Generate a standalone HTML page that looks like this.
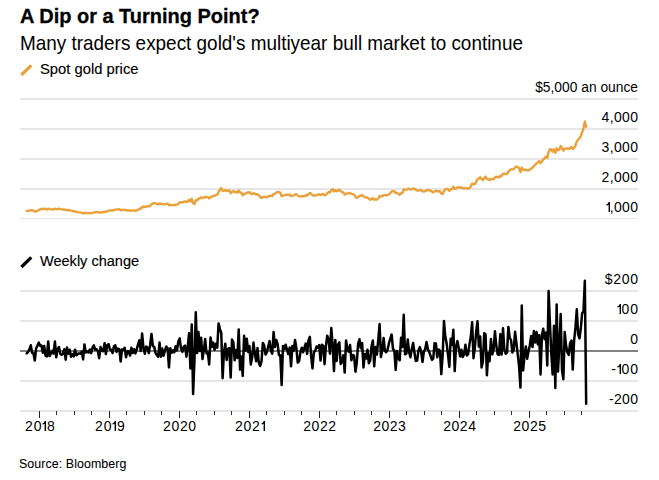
<!DOCTYPE html>
<html><head><meta charset="utf-8">
<style>
html,body{margin:0;padding:0;background:#fff;}
body{width:659px;height:480px;position:relative;overflow:hidden;font-family:"Liberation Sans",sans-serif;color:#000;}
.t{position:absolute;left:20px;white-space:nowrap;line-height:1;transform-origin:0 0;}
#title{top:4.9px;font-size:21px;font-weight:bold;transform:scaleX(0.951);-webkit-text-stroke:0.3px #000;}
#sub{top:32.5px;font-size:20.3px;transform:scaleX(0.9325);}
#leg1{left:40px;top:61.4px;font-size:15.3px;transform:scaleX(0.965);-webkit-text-stroke:0.15px #000;}
#leg2{left:40px;top:253.4px;font-size:15.3px;transform:scaleX(0.95);-webkit-text-stroke:0.15px #000;}
#src{top:458px;left:19px;font-size:12.4px;letter-spacing:0.08px;color:#000;-webkit-text-stroke:0.08px #000;}
.yl{position:absolute;right:21px;font-size:14px;letter-spacing:0.35px;margin-right:-0.35px;line-height:16px;height:16px;white-space:nowrap;padding-top:4px;}
.xl{position:absolute;top:418px;width:60px;text-align:center;font-size:14px;line-height:16px;}
.one{vertical-align:baseline;display:inline-block;}
#unit{letter-spacing:0;margin-right:0;font-size:13.8px;padding-top:5.2px;}
</style></head><body>
<svg width="659" height="480" viewBox="0 0 659 480" style="position:absolute;left:0;top:0">
<rect x="20" y="98" width="618" height="2" fill="#e6e6e6"/>
<rect x="20" y="128" width="618" height="2" fill="#e6e6e6"/>
<rect x="20" y="158" width="618" height="2" fill="#e6e6e6"/>
<rect x="20" y="188" width="618" height="2" fill="#e6e6e6"/>
<rect x="20" y="218" width="618" height="1" fill="#e6e6e6"/>
<rect x="20" y="290" width="618" height="2" fill="#e6e6e6"/>
<rect x="20" y="320" width="618" height="2" fill="#e6e6e6"/>
<rect x="20" y="380" width="618" height="2" fill="#e6e6e6"/>
<rect x="20" y="410" width="618" height="2" fill="#e6e6e6"/>
<rect x="39" y="411" width="1" height="7" fill="#222"/>
<rect x="109" y="411" width="1" height="7" fill="#222"/>
<rect x="179" y="411" width="1" height="7" fill="#222"/>
<rect x="249" y="411" width="1" height="7" fill="#222"/>
<rect x="319" y="411" width="1" height="7" fill="#222"/>
<rect x="389" y="411" width="1" height="7" fill="#222"/>
<rect x="459" y="411" width="1" height="7" fill="#222"/>
<rect x="529" y="411" width="1" height="7" fill="#222"/>
<rect x="56" y="411" width="1" height="4" fill="#333"/>
<rect x="74" y="411" width="1" height="4" fill="#333"/>
<rect x="91" y="411" width="1" height="4" fill="#333"/>
<rect x="126" y="411" width="1" height="4" fill="#333"/>
<rect x="144" y="411" width="1" height="4" fill="#333"/>
<rect x="161" y="411" width="1" height="4" fill="#333"/>
<rect x="196" y="411" width="1" height="4" fill="#333"/>
<rect x="214" y="411" width="1" height="4" fill="#333"/>
<rect x="231" y="411" width="1" height="4" fill="#333"/>
<rect x="266" y="411" width="1" height="4" fill="#333"/>
<rect x="284" y="411" width="1" height="4" fill="#333"/>
<rect x="301" y="411" width="1" height="4" fill="#333"/>
<rect x="336" y="411" width="1" height="4" fill="#333"/>
<rect x="354" y="411" width="1" height="4" fill="#333"/>
<rect x="371" y="411" width="1" height="4" fill="#333"/>
<rect x="406" y="411" width="1" height="4" fill="#333"/>
<rect x="424" y="411" width="1" height="4" fill="#333"/>
<rect x="441" y="411" width="1" height="4" fill="#333"/>
<rect x="476" y="411" width="1" height="4" fill="#333"/>
<rect x="494" y="411" width="1" height="4" fill="#333"/>
<rect x="511" y="411" width="1" height="4" fill="#333"/>
<rect x="546" y="411" width="1" height="4" fill="#333"/>
<rect x="564" y="411" width="1" height="4" fill="#333"/>
<rect x="581" y="411" width="1" height="4" fill="#333"/>
<path d="M26.75,210.84 L28.09,210.93 L29.43,210.75 L30.78,210.18 L32.12,210.36 L33.46,210.60 L34.80,211.56 L36.14,211.29 L37.48,210.75 L38.83,209.91 L40.17,209.40 L41.51,208.86 L42.85,209.04 L44.19,208.53 L45.53,209.01 L46.87,209.55 L48.22,208.59 L49.56,209.10 L50.90,209.34 L52.24,209.31 L53.58,209.58 L54.92,208.62 L56.27,209.25 L57.61,209.04 L58.95,208.65 L60.29,208.92 L61.63,209.31 L62.97,209.58 L64.31,209.40 L65.66,210.27 L67.00,209.91 L68.34,210.18 L69.68,210.06 L71.02,210.63 L72.36,210.93 L73.71,211.47 L75.05,211.35 L76.39,211.77 L77.73,212.07 L79.07,212.31 L80.41,212.58 L81.75,212.64 L83.10,213.48 L84.44,212.82 L85.78,212.97 L87.12,213.03 L88.46,213.18 L89.80,213.03 L91.15,213.24 L92.49,212.91 L93.83,212.34 L95.17,212.19 L96.51,212.01 L97.85,212.01 L99.19,212.73 L100.54,212.34 L101.88,212.31 L103.22,212.34 L104.56,211.56 L105.90,211.86 L107.24,211.29 L108.59,210.60 L109.93,210.45 L111.27,210.33 L112.61,210.54 L113.95,210.06 L115.29,209.49 L116.63,209.58 L117.98,209.34 L119.32,209.16 L120.66,210.21 L122.00,210.06 L123.34,209.94 L124.68,209.61 L126.03,210.24 L127.37,210.27 L128.71,210.30 L130.05,210.75 L131.39,210.42 L132.73,210.63 L134.07,210.45 L135.42,210.69 L136.76,210.51 L138.10,209.85 L139.44,208.77 L140.78,208.77 L142.12,207.03 L143.47,206.73 L144.81,207.00 L146.15,206.55 L147.49,206.22 L148.83,206.43 L150.17,205.80 L151.51,204.09 L152.86,203.61 L154.20,203.19 L155.54,203.40 L156.88,203.79 L158.22,204.36 L159.56,203.52 L160.91,204.09 L162.25,203.85 L163.59,204.33 L164.93,204.30 L166.27,203.85 L167.61,203.58 L168.96,205.23 L170.30,204.96 L171.64,205.14 L172.98,205.08 L174.32,205.20 L175.66,204.72 L177.00,204.66 L178.35,203.70 L179.69,202.44 L181.03,202.20 L182.37,202.29 L183.71,201.87 L185.05,201.33 L186.40,201.90 L187.74,201.48 L189.08,199.71 L190.42,201.45 L191.76,198.81 L193.10,203.10 L194.44,204.06 L195.79,200.19 L197.13,200.40 L198.47,198.51 L199.81,198.51 L201.15,197.19 L202.49,198.00 L203.84,197.91 L205.18,196.71 L206.52,196.95 L207.86,197.10 L209.20,198.45 L210.54,197.10 L211.88,196.71 L213.23,195.87 L214.57,195.75 L215.91,195.03 L217.25,194.70 L218.59,191.94 L219.93,189.75 L221.28,187.95 L222.62,190.68 L223.96,190.80 L225.30,190.08 L226.64,190.98 L227.98,190.80 L229.32,190.50 L230.67,193.14 L232.01,192.00 L233.35,191.10 L234.69,192.03 L236.03,191.94 L237.37,192.63 L238.72,190.47 L240.06,192.33 L241.40,192.87 L242.74,195.36 L244.08,193.83 L245.42,193.80 L246.76,192.57 L248.11,192.66 L249.45,192.15 L250.79,193.50 L252.13,194.16 L253.47,193.32 L254.81,193.56 L256.16,194.58 L257.50,194.28 L258.84,195.48 L260.18,196.98 L261.52,198.00 L262.86,197.19 L264.20,196.65 L265.55,197.01 L266.89,197.13 L268.23,196.68 L269.57,195.69 L270.91,195.69 L272.25,195.96 L273.60,194.07 L274.94,193.68 L276.28,192.57 L277.62,191.85 L278.96,192.27 L280.30,192.69 L281.65,196.08 L282.99,195.57 L284.33,195.39 L285.67,194.76 L287.01,194.64 L288.35,194.94 L289.69,194.58 L291.04,196.11 L292.38,195.60 L293.72,195.57 L295.06,194.46 L296.40,194.19 L297.74,195.36 L299.09,196.38 L300.43,196.50 L301.77,196.17 L303.11,196.29 L304.45,195.96 L305.79,195.21 L307.13,195.51 L308.48,194.46 L309.82,193.05 L311.16,193.62 L312.50,195.36 L313.84,195.51 L315.18,195.51 L316.53,195.06 L317.87,194.73 L319.21,194.13 L320.55,195.09 L321.89,194.46 L323.23,193.95 L324.57,195.27 L325.92,194.76 L327.26,193.23 L328.60,192.06 L329.94,192.33 L331.28,190.02 L332.62,189.36 L333.97,191.37 L335.31,190.26 L336.65,191.25 L337.99,190.62 L339.33,189.75 L340.67,191.04 L342.01,192.09 L343.36,192.51 L344.70,194.67 L346.04,193.62 L347.38,193.41 L348.72,193.47 L350.06,192.87 L351.41,193.80 L352.75,194.19 L354.09,194.67 L355.43,196.74 L356.77,197.91 L358.11,197.19 L359.45,196.02 L360.80,195.75 L362.14,194.94 L363.48,196.59 L364.82,196.89 L366.16,197.64 L367.50,197.52 L368.85,198.75 L370.19,199.68 L371.53,199.20 L372.87,198.15 L374.21,199.68 L375.55,199.29 L376.89,199.65 L378.24,198.57 L379.58,195.87 L380.92,196.47 L382.26,196.38 L383.60,195.09 L384.94,195.09 L386.29,195.21 L387.63,195.06 L388.97,194.28 L390.31,193.05 L391.65,191.40 L392.99,191.22 L394.33,191.16 L395.68,193.05 L397.02,193.05 L398.36,193.74 L399.70,194.67 L401.04,193.35 L402.38,192.96 L403.73,189.33 L405.07,189.66 L406.41,189.93 L407.75,188.79 L409.09,188.88 L410.43,189.51 L411.78,189.30 L413.12,188.49 L414.46,188.67 L415.80,189.66 L417.14,190.62 L418.48,190.56 L419.82,190.17 L421.17,190.26 L422.51,191.37 L423.85,191.43 L425.19,191.25 L426.53,190.35 L427.87,190.14 L429.22,190.23 L430.56,190.71 L431.90,191.58 L433.24,192.33 L434.58,191.55 L435.92,190.80 L437.26,191.43 L438.61,191.28 L439.95,191.25 L441.29,193.56 L442.63,194.01 L443.97,191.01 L445.31,189.57 L446.66,188.82 L448.00,189.21 L449.34,190.80 L450.68,189.57 L452.02,188.97 L453.36,186.84 L454.70,188.85 L456.05,188.40 L457.39,187.41 L458.73,187.11 L460.07,187.65 L461.41,187.53 L462.75,188.13 L464.10,188.46 L465.44,187.83 L466.78,188.28 L468.12,188.61 L469.46,187.95 L470.80,186.51 L472.14,183.63 L473.49,184.35 L474.83,184.05 L476.17,182.10 L477.51,179.13 L478.85,178.68 L480.19,177.24 L481.54,178.89 L482.88,179.97 L484.22,178.20 L485.56,176.55 L486.90,178.98 L488.24,179.19 L489.58,180.21 L490.93,179.01 L492.27,179.34 L493.61,179.22 L494.95,177.24 L496.29,176.67 L497.63,177.00 L498.98,177.39 L500.32,175.71 L501.66,176.07 L503.00,173.79 L504.34,173.64 L505.68,173.91 L507.02,174.09 L508.37,171.69 L509.71,170.34 L511.05,169.26 L512.39,169.41 L513.73,169.29 L515.07,167.37 L516.42,166.59 L517.76,166.92 L519.10,168.45 L520.44,172.11 L521.78,167.55 L523.12,169.50 L524.47,170.01 L525.81,169.56 L527.15,170.34 L528.49,170.37 L529.83,169.80 L531.17,168.30 L532.51,167.91 L533.86,165.90 L535.20,165.06 L536.54,163.17 L537.88,162.51 L539.22,160.92 L540.56,163.26 L541.91,161.70 L543.25,159.48 L544.59,158.31 L545.93,156.45 L547.27,157.89 L548.61,151.89 L549.95,149.19 L551.30,149.43 L552.64,151.77 L553.98,149.25 L555.32,152.94 L556.66,148.29 L558.00,150.33 L559.35,149.70 L560.69,146.01 L562.03,147.96 L563.37,150.78 L564.71,148.89 L566.05,148.35 L567.39,148.50 L568.74,148.89 L570.08,148.11 L571.42,147.06 L572.76,148.92 L574.10,147.87 L575.44,145.56 L576.79,141.39 L578.13,139.71 L579.47,138.45 L580.81,136.20 L582.15,132.42 L583.49,128.46 L584.83,121.44 L586.18,126.72" fill="none" stroke="#e9a23b" stroke-width="2.4" stroke-linejoin="round" stroke-linecap="round"/>
<rect x="20" y="350" width="618" height="2" fill="#828282"/>
<path d="M26.75,353.40 L28.09,351.90 L29.43,349.20 L30.78,345.30 L32.12,352.80 L33.46,353.40 L34.80,360.60 L36.14,348.30 L37.48,345.60 L38.83,342.60 L40.17,345.90 L41.51,345.60 L42.85,352.80 L44.19,345.90 L45.53,355.80 L46.87,356.40 L48.22,341.40 L49.56,356.10 L50.90,353.40 L52.24,350.70 L53.58,353.70 L54.92,341.40 L56.27,357.30 L57.61,348.90 L58.95,347.10 L60.29,353.70 L61.63,354.90 L62.97,353.70 L64.31,349.20 L65.66,359.70 L67.00,347.40 L68.34,353.70 L69.68,349.80 L71.02,356.70 L72.36,354.00 L73.71,356.40 L75.05,349.80 L76.39,355.20 L77.73,354.00 L79.07,353.40 L80.41,353.70 L81.75,351.60 L83.10,359.40 L84.44,344.40 L85.78,352.50 L87.12,351.60 L88.46,352.50 L89.80,349.50 L91.15,353.10 L92.49,347.70 L93.83,345.30 L95.17,349.50 L96.51,349.20 L97.85,351.00 L99.19,358.20 L100.54,347.10 L101.88,350.70 L103.22,351.30 L104.56,343.20 L105.90,354.00 L107.24,345.30 L108.59,344.10 L109.93,349.50 L111.27,349.80 L112.61,353.10 L113.95,346.20 L115.29,345.30 L116.63,351.90 L117.98,348.60 L119.32,349.20 L120.66,361.50 L122.00,349.50 L123.34,349.80 L124.68,347.70 L126.03,357.30 L127.37,351.30 L128.71,351.30 L130.05,355.50 L131.39,347.70 L132.73,353.10 L134.07,349.20 L135.42,353.40 L136.76,349.20 L138.10,344.40 L139.44,340.20 L140.78,351.00 L142.12,333.60 L143.47,348.00 L144.81,353.70 L146.15,346.50 L147.49,347.70 L148.83,353.10 L150.17,344.70 L151.51,333.90 L152.86,346.20 L154.20,346.80 L155.54,353.10 L156.88,354.90 L158.22,356.70 L159.56,342.60 L160.91,356.70 L162.25,348.60 L163.59,355.80 L164.93,350.70 L166.27,346.50 L167.61,348.30 L168.96,367.50 L170.30,348.30 L171.64,352.80 L172.98,350.40 L174.32,352.20 L175.66,346.20 L177.00,350.40 L178.35,341.40 L179.69,338.40 L181.03,348.60 L182.37,351.90 L183.71,346.80 L185.05,345.60 L186.40,356.70 L187.74,346.80 L189.08,333.30 L190.42,368.40 L191.76,324.60 L193.10,393.90 L194.44,360.60 L195.79,312.30 L197.13,353.10 L198.47,332.10 L199.81,351.00 L201.15,337.80 L202.49,359.10 L203.84,350.10 L205.18,339.00 L206.52,353.40 L207.86,352.50 L209.20,364.50 L210.54,337.50 L211.88,347.10 L213.23,342.60 L214.57,349.80 L215.91,343.80 L217.25,347.70 L218.59,323.40 L219.93,329.10 L221.28,333.00 L222.62,378.30 L223.96,352.20 L225.30,343.80 L226.64,360.00 L227.98,349.20 L229.32,348.00 L230.67,377.40 L232.01,339.60 L233.35,342.00 L234.69,360.30 L236.03,350.10 L237.37,357.90 L238.72,329.40 L240.06,369.60 L241.40,356.40 L242.74,375.90 L244.08,335.70 L245.42,350.70 L246.76,338.70 L248.11,351.90 L249.45,345.90 L250.79,364.50 L252.13,357.60 L253.47,342.60 L254.81,353.40 L256.16,361.20 L257.50,348.00 L258.84,363.00 L260.18,366.00 L261.52,361.20 L262.86,342.90 L264.20,345.60 L265.55,354.60 L266.89,352.20 L268.23,346.50 L269.57,341.10 L270.91,351.00 L272.25,353.70 L273.60,332.10 L274.94,347.10 L276.28,339.90 L277.62,343.80 L278.96,355.20 L280.30,355.20 L281.65,384.90 L282.99,345.90 L284.33,349.20 L285.67,344.70 L287.01,349.80 L288.35,354.00 L289.69,347.40 L291.04,366.30 L292.38,345.90 L293.72,350.70 L295.06,339.90 L296.40,348.30 L297.74,362.70 L299.09,361.20 L300.43,352.20 L301.77,347.70 L303.11,352.20 L304.45,347.70 L305.79,343.50 L307.13,354.00 L308.48,340.50 L309.82,336.90 L311.16,356.70 L312.50,368.40 L313.84,352.50 L315.18,351.00 L316.53,346.50 L317.87,347.70 L319.21,345.00 L320.55,360.60 L321.89,344.70 L323.23,345.90 L324.57,364.20 L325.92,345.90 L327.26,335.70 L328.60,339.30 L329.94,353.70 L331.28,327.90 L332.62,344.40 L333.97,371.10 L335.31,339.90 L336.65,360.90 L337.99,344.70 L339.33,342.30 L340.67,363.90 L342.01,361.50 L343.36,355.20 L344.70,372.60 L346.04,340.50 L347.38,348.90 L348.72,351.60 L350.06,345.00 L351.41,360.30 L352.75,354.90 L354.09,355.80 L355.43,371.70 L356.77,362.70 L358.11,343.80 L359.45,339.30 L360.80,348.30 L362.14,342.90 L363.48,367.50 L364.82,354.00 L366.16,358.50 L367.50,349.80 L368.85,363.30 L370.19,360.30 L371.53,346.20 L372.87,340.50 L374.21,366.30 L375.55,347.10 L376.89,354.60 L378.24,340.20 L379.58,324.00 L380.92,357.00 L382.26,350.10 L383.60,338.10 L384.94,351.00 L386.29,352.20 L387.63,349.50 L388.97,343.20 L390.31,338.70 L391.65,334.50 L392.99,349.20 L394.33,350.40 L395.68,369.90 L397.02,351.00 L398.36,357.90 L399.70,360.30 L401.04,337.80 L402.38,347.10 L403.73,314.70 L405.07,354.30 L406.41,353.70 L407.75,339.60 L409.09,351.90 L410.43,357.30 L411.78,348.90 L413.12,342.90 L414.46,352.80 L415.80,360.90 L417.14,360.60 L418.48,350.40 L419.82,347.10 L421.17,351.90 L422.51,362.10 L423.85,351.60 L425.19,349.20 L426.53,342.00 L427.87,348.90 L429.22,351.90 L430.56,355.80 L431.90,359.70 L433.24,358.50 L434.58,343.20 L435.92,343.50 L437.26,357.30 L438.61,349.50 L439.95,350.70 L441.29,374.10 L442.63,355.50 L443.97,321.00 L445.31,336.60 L446.66,343.50 L448.00,354.90 L449.34,366.90 L450.68,338.70 L452.02,345.00 L453.36,329.70 L454.70,371.10 L456.05,346.50 L457.39,341.10 L458.73,348.00 L460.07,356.40 L461.41,349.80 L462.75,357.00 L464.10,354.30 L465.44,344.70 L466.78,355.50 L468.12,354.30 L469.46,344.40 L470.80,336.60 L472.14,322.20 L473.49,358.20 L474.83,348.00 L476.17,331.50 L477.51,321.30 L478.85,346.50 L480.19,336.60 L481.54,367.50 L482.88,361.80 L484.22,333.30 L485.56,334.50 L486.90,375.30 L488.24,353.10 L489.58,361.20 L490.93,339.00 L492.27,354.30 L493.61,349.80 L494.95,331.20 L496.29,345.30 L497.63,354.30 L498.98,354.90 L500.32,334.20 L501.66,354.60 L503.00,328.20 L504.34,349.50 L505.68,353.70 L507.02,352.80 L508.37,327.00 L509.71,337.50 L511.05,340.20 L512.39,352.50 L513.73,349.80 L515.07,331.80 L516.42,343.20 L517.76,354.30 L519.10,366.30 L520.44,387.60 L521.78,305.40 L523.12,370.50 L524.47,356.10 L525.81,346.50 L527.15,358.80 L528.49,351.30 L529.83,345.30 L531.17,336.00 L532.51,347.10 L533.86,330.90 L535.20,342.60 L536.54,332.10 L537.88,344.40 L539.22,335.10 L540.56,374.40 L541.91,335.40 L543.25,328.80 L544.59,339.30 L545.93,332.40 L547.27,365.40 L548.61,291.00 L549.95,324.00 L551.30,353.40 L552.64,374.40 L553.98,325.80 L555.32,387.90 L556.66,304.50 L558.00,371.40 L559.35,344.70 L560.69,314.10 L562.03,370.50 L563.37,379.20 L564.71,332.10 L566.05,345.60 L567.39,352.50 L568.74,354.90 L570.08,343.20 L571.42,340.50 L572.76,369.60 L574.10,340.50 L575.44,327.90 L576.79,309.30 L578.13,334.20 L579.47,338.40 L580.81,328.50 L582.15,313.20 L583.49,311.40 L584.83,280.80 L586.18,403.80" fill="none" stroke="#000" stroke-width="2.5" stroke-linejoin="round" stroke-linecap="round"/>
<line x1="21.4" y1="75.0" x2="31.3" y2="65.4" stroke="#e9a23b" stroke-width="3.2"/>
<line x1="21.4" y1="267.0" x2="31.3" y2="257.4" stroke="#000" stroke-width="3.2"/>
</svg>
<div class="t" id="title">A Dip or a Turning Point?</div>
<div class="t" id="sub">Many traders expect gold's multiyear bull market to continue</div>
<div class="t" id="leg1">Spot gold price</div>
<div class="t" id="leg2">Weekly change</div>
<div class="t" id="src">Source: Bloomberg</div>
<div class="yl" id="unit" style="top:75px;">$5,000 an ounce</div>
<div class="yl" style="top:105px;">4,000</div>
<div class="yl" style="top:135px;">3,000</div>
<div class="yl" style="top:165px;">2,000</div>
<div class="yl" style="top:195px;"><svg class="one" width="4.2" height="10.0" viewBox="0 0 4.2 10.0"><path d="M4.05,0 L4.05,10.00 L2.60,10.00 L2.60,2.7 Q1.61,3.35 0.40,3.45 L0.40,2.35 Q1.94,2.1 2.75,0 Z" fill="#000"/></svg>,000</div>
<div class="yl" style="top:267px;letter-spacing:0.7px;margin-right:-0.7px;">$200</div>
<div class="yl" style="top:297px;letter-spacing:1.0px;margin-right:-1.0px;"><svg class="one" width="4.6" height="10.0" viewBox="0 0 4.6 10.0"><path d="M4.05,0 L4.05,10.00 L2.60,10.00 L2.60,2.7 Q1.61,3.35 0.40,3.45 L0.40,2.35 Q1.94,2.1 2.75,0 Z" fill="#000"/></svg>00</div>
<div class="yl" style="top:327px;">0</div>
<div class="yl" style="top:357px;letter-spacing:0.9px;margin-right:-0.9px;">-<svg class="one" width="4.6" height="10.0" viewBox="0 0 4.6 10.0"><path d="M4.05,0 L4.05,10.00 L2.60,10.00 L2.60,2.7 Q1.61,3.35 0.40,3.45 L0.40,2.35 Q1.94,2.1 2.75,0 Z" fill="#000"/></svg>00</div>
<div class="yl" style="top:387px;">-200</div>
<div class="xl" style="left:9.4px;letter-spacing:0.95px;padding-left:0.95px">20<svg class="one" width="4.5" height="10.0" viewBox="0 0 4.5 10.0"><path d="M4.05,0 L4.05,10.00 L2.60,10.00 L2.60,2.7 Q1.70,3.35 0.60,3.45 L0.60,2.35 Q2.00,2.1 2.75,0 Z" fill="#000"/></svg>8</div>
<div class="xl" style="left:79.4px;letter-spacing:0.9px;padding-left:0.9px">20<svg class="one" width="4.5" height="10.0" viewBox="0 0 4.5 10.0"><path d="M4.05,0 L4.05,10.00 L2.60,10.00 L2.60,2.7 Q1.70,3.35 0.60,3.45 L0.60,2.35 Q2.00,2.1 2.75,0 Z" fill="#000"/></svg>9</div>
<div class="xl" style="left:149.3px;letter-spacing:0.6px;padding-left:0.6px">2020</div>
<div class="xl" style="left:219.4px;letter-spacing:0.7px;padding-left:0.7px">202<svg class="one" width="4.5" height="10.0" viewBox="0 0 4.5 10.0"><path d="M4.05,0 L4.05,10.00 L2.60,10.00 L2.60,2.7 Q1.70,3.35 0.60,3.45 L0.60,2.35 Q2.00,2.1 2.75,0 Z" fill="#000"/></svg></div>
<div class="xl" style="left:289.4px;letter-spacing:0.5px;padding-left:0.5px">2022</div>
<div class="xl" style="left:359.4px;letter-spacing:0.45px;padding-left:0.45px">2023</div>
<div class="xl" style="left:429.3px;letter-spacing:0.55px;padding-left:0.55px">2024</div>
<div class="xl" style="left:499.4px;letter-spacing:0.55px;padding-left:0.55px">2025</div>
</body></html>
